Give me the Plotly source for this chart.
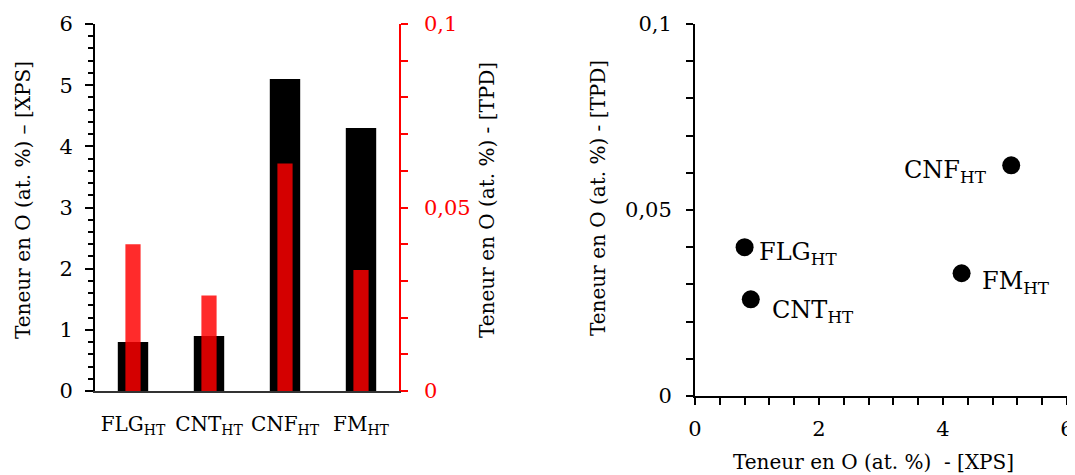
import plotly.graph_objects as go

categories = ["FLG<sub>HT</sub>", "CNT<sub>HT</sub>", "CNF<sub>HT</sub>", "FM<sub>HT</sub>"]
xps_values = [0.8, 0.9, 5.1, 4.3]
tpd_values = [0.040, 0.026, 0.062, 0.033]

FONT = "DejaVu Serif"

# The page body has an 8px margin; the figure is sized to fill the rest of the window.
W, H = 1067, 467
OFF = 8


def px(x):
    return (x - OFF) / W


def py(y):
    return 1 - (y - OFF) / H


fig = go.Figure()

fig.add_trace(go.Bar(
    x=categories, y=xps_values, width=0.4, offset=-0.2,
    marker=dict(color="black", line=dict(width=0)),
    xaxis="x", yaxis="y", showlegend=False,
))
fig.add_trace(go.Bar(
    x=categories, y=tpd_values, width=0.2, offset=-0.1,
    marker=dict(color="rgba(255,0,0,0.83)", line=dict(width=0)),
    xaxis="x", yaxis="y2", showlegend=False,
))

fig.add_trace(go.Scatter(
    x=xps_values, y=tpd_values, mode="markers",
    marker=dict(color="black", size=18),
    xaxis="x3", yaxis="y3", showlegend=False,
))

# point labels
label_pos = [
    dict(xanchor="left", xshift=12, yshift=-6),
    dict(xanchor="left", xshift=19, yshift=-12),
    dict(xanchor="right", xshift=-22, yshift=-6),
    dict(xanchor="left", xshift=18, yshift=-9),
]
annotations = []
for cat, xv, yv, p in zip(categories, xps_values, tpd_values, label_pos):
    annotations.append(dict(
        x=xv, y=yv, xref="x3", yref="y3", text=cat, showarrow=False,
        yanchor="middle", font=dict(family=FONT, size=24, color="black"), **p,
    ))

title_font = dict(family=FONT, size=20, color="black")
annotations += [
    dict(x=px(23), y=py(200), xref="paper", yref="paper", text="Teneur en O (at. %) – [XPS]",
         textangle=-90, showarrow=False, font=title_font, xanchor="center", yanchor="middle"),
    dict(x=px(487), y=py(200), xref="paper", yref="paper", text="Teneur en O (at. %) - [TPD]",
         textangle=-90, showarrow=False, font=title_font, xanchor="center", yanchor="middle"),
    dict(x=px(598), y=py(198), xref="paper", yref="paper", text="Teneur en O (at. %) - [TPD]",
         textangle=-90, showarrow=False, font=title_font, xanchor="center", yanchor="middle"),
    dict(x=px(873), y=py(462), xref="paper", yref="paper", text="Teneur en O (at. %)  - [XPS]",
         showarrow=False, font=title_font, xanchor="center", yanchor="middle"),
]

tick_font = dict(family=FONT, size=21, color="black")

fig.update_layout(
    width=W, height=H,
    margin=dict(l=0, r=0, t=0, b=0),
    paper_bgcolor="white", plot_bgcolor="white",
    separators=", ",
    barmode="overlay",
    font=dict(family=FONT, color="black"),
    annotations=annotations,
    xaxis=dict(
        domain=[px(95), px(399)], anchor="y",
        type="category", range=[-0.5, 3.5],
        showline=True, linecolor="#333333", linewidth=1.5,
        showgrid=False, ticks="", tickfont=dict(family=FONT, size=20, color="black"),
        ticklabelstandoff=14, automargin=False,
    ),
    yaxis=dict(
        domain=[py(391), py(24)], anchor="x",
        range=[0, 6], dtick=1, showgrid=False, zeroline=False,
        showline=True, linecolor="black", linewidth=2,
        ticks="outside", ticklen=8, tickwidth=2, tickcolor="black",
        minor=dict(dtick=0.2, ticks="outside", ticklen=5, tickwidth=2, tickcolor="black", showgrid=False),
        tickfont=tick_font, ticklabelstandoff=8, automargin=False,
    ),
    yaxis2=dict(
        overlaying="y", side="right", anchor="x",
        range=[0, 0.1], tickvals=[0, 0.05, 0.1], showgrid=False, zeroline=False,
        showline=True, linecolor="red", linewidth=1.5,
        ticks="outside", ticklen=7, tickwidth=1.5, tickcolor="red",
        minor=dict(dtick=0.01, ticks="outside", ticklen=7, tickwidth=1.5, tickcolor="red", showgrid=False),
        tickfont=dict(family=FONT, size=21, color="red"), ticklabelstandoff=12, automargin=False,
    ),
    xaxis3=dict(
        domain=[px(695), px(1067)], anchor="y3",
        range=[0, 6], dtick=2, showgrid=False, zeroline=False,
        showline=True, linecolor="black", linewidth=2,
        ticks="outside", ticklen=7, tickwidth=2, tickcolor="black",
        minor=dict(dtick=0.4, ticks="outside", ticklen=7, tickwidth=2, tickcolor="black", showgrid=False),
        tickfont=tick_font, ticklabelstandoff=6, automargin=False,
    ),
    yaxis3=dict(
        domain=[py(396), py(24)], anchor="x3",
        range=[0, 0.1], tickvals=[0, 0.05, 0.1], showgrid=False, zeroline=False,
        showline=True, linecolor="black", linewidth=2,
        ticks="outside", ticklen=7, tickwidth=2, tickcolor="black",
        minor=dict(dtick=0.01, ticks="outside", ticklen=7, tickwidth=2, tickcolor="black", showgrid=False),
        tickfont=tick_font, ticklabelstandoff=10, automargin=False,
    ),
)

fig.write_html("out.html")
